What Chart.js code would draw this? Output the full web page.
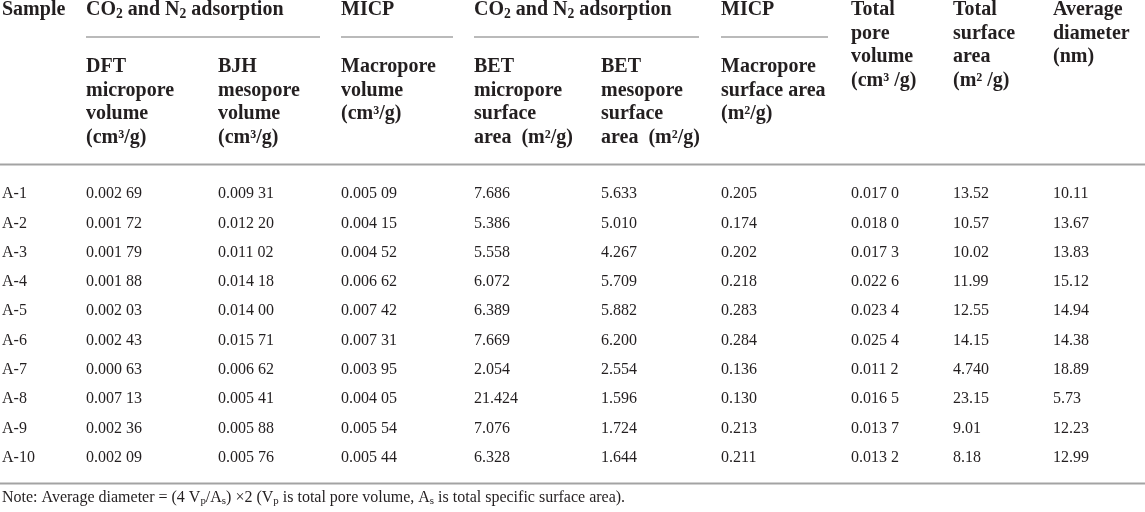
<!DOCTYPE html>
<html>
<head>
<meta charset="utf-8">
<script src="https://cdn.jsdelivr.net/npm/chart.js"></script>
<style>
  html, body { margin: 0; padding: 0; background: #ffffff; }
  canvas { display: block; }
</style>
</head>
<body>
<canvas id="poreTable" width="1145" height="512"></canvas>
<script>
// Pore structure parameters per sample
const samples = ['A-1', 'A-2', 'A-3', 'A-4', 'A-5', 'A-6', 'A-7', 'A-8', 'A-9', 'A-10'];
const dftMicroVol = [0.00269, 0.00172, 0.00179, 0.00188, 0.00203, 0.00243, 0.00063, 0.00713, 0.00236, 0.00209];
const bjhMesoVol = [0.00931, 0.01220, 0.01102, 0.01418, 0.01400, 0.01571, 0.00662, 0.00541, 0.00588, 0.00576];
const micpMacroVol = [0.00509, 0.00415, 0.00452, 0.00662, 0.00742, 0.00731, 0.00395, 0.00405, 0.00554, 0.00544];
const betMicroArea = [7.686, 5.386, 5.558, 6.072, 6.389, 7.669, 2.054, 21.424, 7.076, 6.328];
const betMesoArea = [5.633, 5.010, 4.267, 5.709, 5.882, 6.200, 2.554, 1.596, 1.724, 1.644];
const micpMacroArea = [0.205, 0.174, 0.202, 0.218, 0.283, 0.284, 0.136, 0.130, 0.213, 0.211];
const totalPoreVol = [0.0170, 0.0180, 0.0173, 0.0226, 0.0234, 0.0254, 0.0112, 0.0165, 0.0137, 0.0132];
const totalArea = [13.52, 10.57, 10.02, 11.99, 12.55, 14.15, 4.740, 23.15, 9.01, 8.18];
const avgDiameter = [10.11, 13.67, 13.83, 15.12, 14.94, 14.38, 18.89, 5.73, 12.23, 12.99];

// decimals shown for total surface area (4.740 keeps a trailing zero)
const totalAreaDp = [2, 2, 2, 2, 2, 2, 3, 2, 2, 2];

// layout: left edge of every column on the x scale
const colX = [2, 86, 218, 341, 474, 601, 721, 851, 953, 1053];

const FONT = '"Liberation Serif", "Times New Roman", serif';
const INK = '#231f20';
const RULE = '#a3a3a3';

// 0.00269 -> "0.002 69"
function grouped(v, dp) {
  const s = v.toFixed(dp);
  const dot = s.indexOf('.');
  return s.slice(0, dot + 4) + ' ' + s.slice(dot + 4);
}

const columns = [
  { values: dftMicroVol, fmt: v => grouped(v, 5) },
  { values: bjhMesoVol, fmt: v => grouped(v, 5) },
  { values: micpMacroVol, fmt: v => grouped(v, 5) },
  { values: betMicroArea, fmt: v => v.toFixed(3) },
  { values: betMesoArea, fmt: v => v.toFixed(3) },
  { values: micpMacroArea, fmt: v => v.toFixed(3) },
  { values: totalPoreVol, fmt: v => grouped(v, 4) },
  { values: totalArea, fmt: (v, i) => v.toFixed(totalAreaDp[i]) },
  { values: avgDiameter, fmt: v => v.toFixed(2) }
];

// draw text made of parts, some of them subscripted
function drawRich(ctx, parts, x, y, size, weight) {
  let cx = x;
  parts.forEach(p => {
    const sub = typeof p !== 'string';
    const t = sub ? p.sub : p;
    const fs = sub ? size * 0.68 : size;
    ctx.font = weight + ' ' + fs + 'px ' + FONT;
    ctx.fillText(t, cx, sub ? y + size * 0.22 : y);
    cx += ctx.measureText(t).width;
  });
}

function drawLines(ctx, lines, x, y0, step) {
  lines.forEach((l, k) => drawRich(ctx, [l], x, y0 + k * step, 20, 'bold'));
}

const tablePlugin = {
  id: 'tablePlugin',
  afterDraw(chart) {
    const ctx = chart.ctx;
    const xs = chart.scales.x;
    ctx.save();
    ctx.fillStyle = INK;
    ctx.textBaseline = 'middle';
    ctx.textAlign = 'left';

    // rules
    ctx.strokeStyle = RULE;
    ctx.lineWidth = 2;
    [164.5, 483.5].forEach(y => {
      ctx.beginPath(); ctx.moveTo(0, y); ctx.lineTo(chart.width, y); ctx.stroke();
    });
    ctx.lineWidth = 1.5;
    [[1, 320], [3, 453], [4, 699], [6, 828]].forEach(([c, end]) => {
      ctx.beginPath();
      ctx.moveTo(xs.getPixelForValue(colX[c]), 37);
      ctx.lineTo(xs.getPixelForValue(end), 37);
      ctx.stroke();
    });

    // header row 1
    const h1 = 10, step = 23.5, h2 = 67;
    const co2 = ['CO', { sub: '2' }, ' and N', { sub: '2' }, ' adsorption'];
    drawRich(ctx, ['Sample'], xs.getPixelForValue(colX[0]), h1, 20, 'bold');
    drawRich(ctx, co2, xs.getPixelForValue(colX[1]), h1, 20, 'bold');
    drawRich(ctx, ['MICP'], xs.getPixelForValue(colX[3]), h1, 20, 'bold');
    drawRich(ctx, co2, xs.getPixelForValue(colX[4]), h1, 20, 'bold');
    drawRich(ctx, ['MICP'], xs.getPixelForValue(colX[6]), h1, 20, 'bold');
    drawLines(ctx, ['Total', 'pore', 'volume', '(cm³ /g)'], xs.getPixelForValue(colX[7]), h1, step);
    drawLines(ctx, ['Total', 'surface', 'area', '(m² /g)'], xs.getPixelForValue(colX[8]), h1, step);
    drawLines(ctx, ['Average', 'diameter', '(nm)'], xs.getPixelForValue(colX[9]), h1, step);

    // header row 2
    drawLines(ctx, ['DFT', 'micropore', 'volume', '(cm³/g)'], xs.getPixelForValue(colX[1]), h2, step);
    drawLines(ctx, ['BJH', 'mesopore', 'volume', '(cm³/g)'], xs.getPixelForValue(colX[2]), h2, step);
    drawLines(ctx, ['Macropore', 'volume', '(cm³/g)'], xs.getPixelForValue(colX[3]), h2, step);
    drawLines(ctx, ['BET', 'micropore', 'surface', 'area  (m²/g)'], xs.getPixelForValue(colX[4]), h2, step);
    drawLines(ctx, ['BET', 'mesopore', 'surface', 'area  (m²/g)'], xs.getPixelForValue(colX[5]), h2, step);
    drawLines(ctx, ['Macropore', 'surface area', '(m²/g)'], xs.getPixelForValue(colX[6]), h2, step);

    // body cells, placed at each point of the datasets
    ctx.font = '16px ' + FONT;
    chart.data.datasets.forEach((ds, c) => {
      chart.getDatasetMeta(c).data.forEach((pt, i) => {
        const text = c === 0 ? samples[i] : columns[c - 1].fmt(columns[c - 1].values[i], i);
        ctx.fillText(text, pt.x, pt.y);
      });
    });

    // note
    drawRich(ctx, ['Note: Average diameter = (4 V', { sub: 'p' }, '/A', { sub: 's' }, ') ×2 (V', { sub: 'p' },
      ' is total pore volume, A', { sub: 's' }, ' is total specific surface area).'], 2, 498, 16, 'normal');
    ctx.restore();
  }
};

const datasets = [{ label: 'Sample', data: samples.map(s => ({ x: colX[0], y: s })) }]
  .concat(columns.map((col, c) => ({
    label: 'col' + (c + 1),
    data: col.values.map((v, i) => ({ x: colX[c + 1], y: samples[i] }))
  })));

new Chart(document.getElementById('poreTable'), {
  type: 'scatter',
  data: { datasets: datasets },
  options: {
    responsive: false,
    animation: false,
    events: [],
    elements: { point: { radius: 0, hoverRadius: 0 } },
    layout: { padding: { top: 179.35, bottom: 39.65, left: 0, right: 0 } },
    plugins: { legend: { display: false }, tooltip: { enabled: false } },
    scales: {
      x: { type: 'linear', min: 0, max: 1145, display: false },
      y: { type: 'category', labels: samples, offset: true, display: false }
    }
  },
  plugins: [tablePlugin]
});
</script>
</body>
</html>
